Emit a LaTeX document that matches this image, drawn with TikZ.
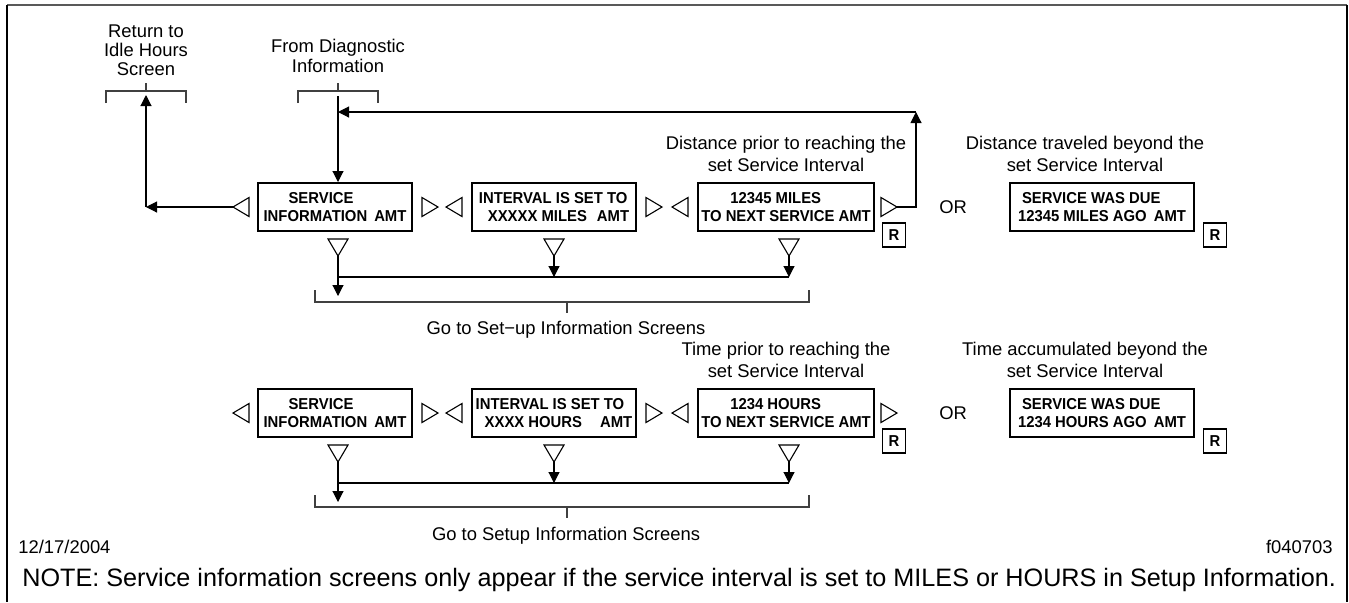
\documentclass[tikz,border=0pt]{standalone}
\usepackage{fontspec}
\setmainfont{Liberation Sans}
\newfontfamily\scrfam[FakeStretch=0.94]{Liberation Sans}
\usetikzlibrary{arrows.meta,positioning,calc}
\newcommand{\lblfont}{\fontsize{9.2}{11}\selectfont}
\newcommand{\scrfont}{\scrfam\fontsize{7.9}{9}\selectfont\bfseries}

\begin{document}
\begin{tikzpicture}[
  x=0.5pt,y=-0.5pt,
  screen/.style={draw,line width=1pt,minimum height=24pt,inner sep=0pt,align=left,font=\scrfont},
  rkey/.style={draw,line width=0.8pt,minimum width=11.5pt,minimum height=12pt,inner sep=0pt,font=\scrfont},
  lbl/.style={inner sep=0pt,align=center,font=\lblfont},
  wire/.style={line width=0.55pt},
  brk/.style={line width=0.55pt,black!75},
  tril/.pic={\draw[wire] (0,0) -- (16,-9.5) -- (16,9.5) -- cycle;},
  trir/.pic={\draw[wire] (0,0) -- (-16,-9.5) -- (-16,9.5) -- cycle;},
  trid/.pic={\draw[wire] (0,0) -- (-10,-17) -- (10,-17) -- cycle;},
  brktop/.pic={\draw[brk] (-40,12) -- (-40,0) -- (40,0) -- (40,12) (0,0) -- (0,-8);},
  brkbot/.pic={\draw[brk] (-247,-12) -- (-247,0) -- (247,0) -- (247,-12) (5,0) -- (5,11);},
  >={Triangle[length=5.5pt,width=5.5pt]}
]
\useasboundingbox (0,0) rectangle (1349,602);
% frame
\draw[line width=1pt,black!65] (7,5) -- (1347,5);
\draw[line width=0.8pt] (7,5) -- (7,602) (1347,5) -- (1347,602);
% entry / exit
\node[lbl,font=\fontsize{9.2}{9.5}\selectfont] (ret) at (146,50) {Return to\\Idle Hours\\Screen};
\coordinate (retb) at (146,91); \pic at (retb) {brktop};
\node[lbl,font=\fontsize{9.2}{10}\selectfont] (dg) at (338,56) {From Diagnostic\\Information};
\coordinate (dgb) at (338,91); \pic at (dgb) {brktop};
% row 1: miles
\node[screen,minimum width=77pt] (si1) at (335,207) {\hspace*{12.5pt}SERVICE\\INFORMATION\hspace{3.5pt}AMT};
\node[screen,minimum width=82pt] (iv1) [right=29pt of si1] {INTERVAL IS SET TO\\\hspace*{4.5pt}XXXXX MILES\hspace{5pt}AMT};
\node[screen,minimum width=88pt] (nx1) [right=30pt of iv1] {\hspace*{14.5pt}12345 MILES\\TO NEXT SERVICE AMT};
\node[lbl] (or1) [right=32pt of nx1] {OR};
\node[screen,minimum width=92pt] (wd1) [right=67pt of nx1] {\hspace*{2pt}SERVICE WAS DUE\\12345 MILES AGO\hspace{3.5pt}AMT};
\node[lbl] (dp1) [above=5pt of nx1] {Distance prior to reaching the\\set Service Interval};
\node[lbl] (db1) [above=5pt of wd1,xshift=-8.5pt] {Distance traveled beyond the\\set Service Interval};
\node[rkey] (r1) at ($(nx1.south east)+(19,3)$) {R};
\node[rkey] (r2) at ($(wd1.south east)+(20,3)$) {R};
% row 2: hours
\node[screen,minimum width=77pt] (si2) [below=78pt of si1] {\hspace*{12.5pt}SERVICE\\INFORMATION\hspace{3.5pt}AMT};
\node[screen,minimum width=82pt] (iv2) [right=29pt of si2] {INTERVAL IS SET TO\\\hspace*{4.5pt}XXXX HOURS\hspace{9pt}AMT};
\node[screen,minimum width=88pt] (nx2) [right=30pt of iv2] {\hspace*{14.5pt}1234 HOURS\\TO NEXT SERVICE AMT};
\node[lbl] (or2) [right=32pt of nx2] {OR};
\node[screen,minimum width=92pt] (wd2) [right=67pt of nx2] {\hspace*{2pt}SERVICE WAS DUE\\1234 HOURS AGO\hspace{3.5pt}AMT};
\node[lbl] (tp2) [above=5pt of nx2] {Time prior to reaching the\\set Service Interval};
\node[lbl] (tb2) [above=5pt of wd2,xshift=-8.5pt] {Time accumulated beyond the\\set Service Interval};
\node[rkey] (r3) at ($(nx2.south east)+(19,3)$) {R};
\node[rkey] (r4) at ($(wd2.south east)+(20,3)$) {R};
% scroll marks
\coordinate (si1-l) at ($(si1.west)+(-24,0)$); \coordinate (si1-r) at ($(si1.east)+(25,0)$); \coordinate (si1-d) at ($(si1.south)+(3,24)$);
\coordinate (iv1-l) at ($(iv1.west)+(-25,0)$); \coordinate (iv1-r) at ($(iv1.east)+(25,0)$); \coordinate (iv1-d) at ($(iv1.south)+(0,24)$);
\coordinate (nx1-l) at ($(nx1.west)+(-25,0)$); \coordinate (nx1-r) at ($(nx1.east)+(22,0)$); \coordinate (nx1-d) at ($(nx1.south)+(3,24)$);
\coordinate (si2-l) at ($(si2.west)+(-24,0)$); \coordinate (si2-r) at ($(si2.east)+(25,0)$); \coordinate (si2-d) at ($(si2.south)+(3,24)$);
\coordinate (iv2-l) at ($(iv2.west)+(-25,0)$); \coordinate (iv2-r) at ($(iv2.east)+(25,0)$); \coordinate (iv2-d) at ($(iv2.south)+(0,24)$);
\coordinate (nx2-l) at ($(nx2.west)+(-25,0)$); \coordinate (nx2-r) at ($(nx2.east)+(22,0)$); \coordinate (nx2-d) at ($(nx2.south)+(3,24)$);
\pic at (si1-l) {tril}; \pic at (si1-r) {trir}; \pic at (si1-d) {trid};
\pic at (iv1-l) {tril}; \pic at (iv1-r) {trir}; \pic at (iv1-d) {trid};
\pic at (nx1-l) {tril}; \pic at (nx1-r) {trir}; \pic at (nx1-d) {trid};
\pic at (si2-l) {tril}; \pic at (si2-r) {trir}; \pic at (si2-d) {trid};
\pic at (iv2-l) {tril}; \pic at (iv2-r) {trir}; \pic at (iv2-d) {trid};
\pic at (nx2-l) {tril}; \pic at (nx2-r) {trir}; \pic at (nx2-d) {trid};
% setup brackets
\coordinate (go1b) at (562,302); \pic at (go1b) {brkbot};
\node[lbl] (go1) at (566,330) {Go to Set−up Information Screens};
\coordinate (go2b) at (562,507); \pic at (go2b) {brkbot};
\node[lbl] (go2) at (566,536) {Go to Setup Information Screens};
% arrows row 1
\coordinate (retc) at (retb |- si1-l);
\coordinate (retin) at ($(retb)+(0,4)$);
\draw[wire,->] (si1-l) -- (retc);
\draw[wire,->] (retc) -- (retin);
\coordinate (dgin) at ($(dgb)+(0,5)$);
\draw[wire,->] (dgin) -- (dgin |- si1.north);
\coordinate (lp) at (916,112);
\draw[wire,->] (nx1-r) -| (lp);
\draw[wire,->] (lp) -- (lp -| dgin);
\coordinate (bus1) at ($(si1-d)+(0,21)$);
\draw[wire] (bus1) -- (bus1 -| nx1-d);
\draw[wire,->] (iv1-d) -- (iv1-d |- bus1);
\draw[wire,->] (nx1-d) -- (nx1-d |- bus1);
\coordinate (go1in) at ($(si1-d)+(0,40)$);
\draw[wire,->] (si1-d) -- (go1in);
% arrows row 2
\coordinate (bus2) at ($(si2-d)+(0,21)$);
\draw[wire] (bus2) -- (bus2 -| nx2-d);
\draw[wire,->] (iv2-d) -- (iv2-d |- bus2);
\draw[wire,->] (nx2-d) -- (nx2-d |- bus2);
\coordinate (go2in) at ($(si2-d)+(0,40)$);
\draw[wire,->] (si2-d) -- (go2in);
% footer
\node[lbl,anchor=west] (date) at (18,547) {12/17/2004};
\node[lbl,anchor=east] (fig) at (1333,547) {f040703};
\node[inner sep=0pt,anchor=west,font=\fontsize{12.6}{15}\selectfont] (note) at (22,580) {NOTE: Service information screens only appear if the service interval is set to MILES or HOURS in Setup Information.};
\end{tikzpicture}
\end{document}
